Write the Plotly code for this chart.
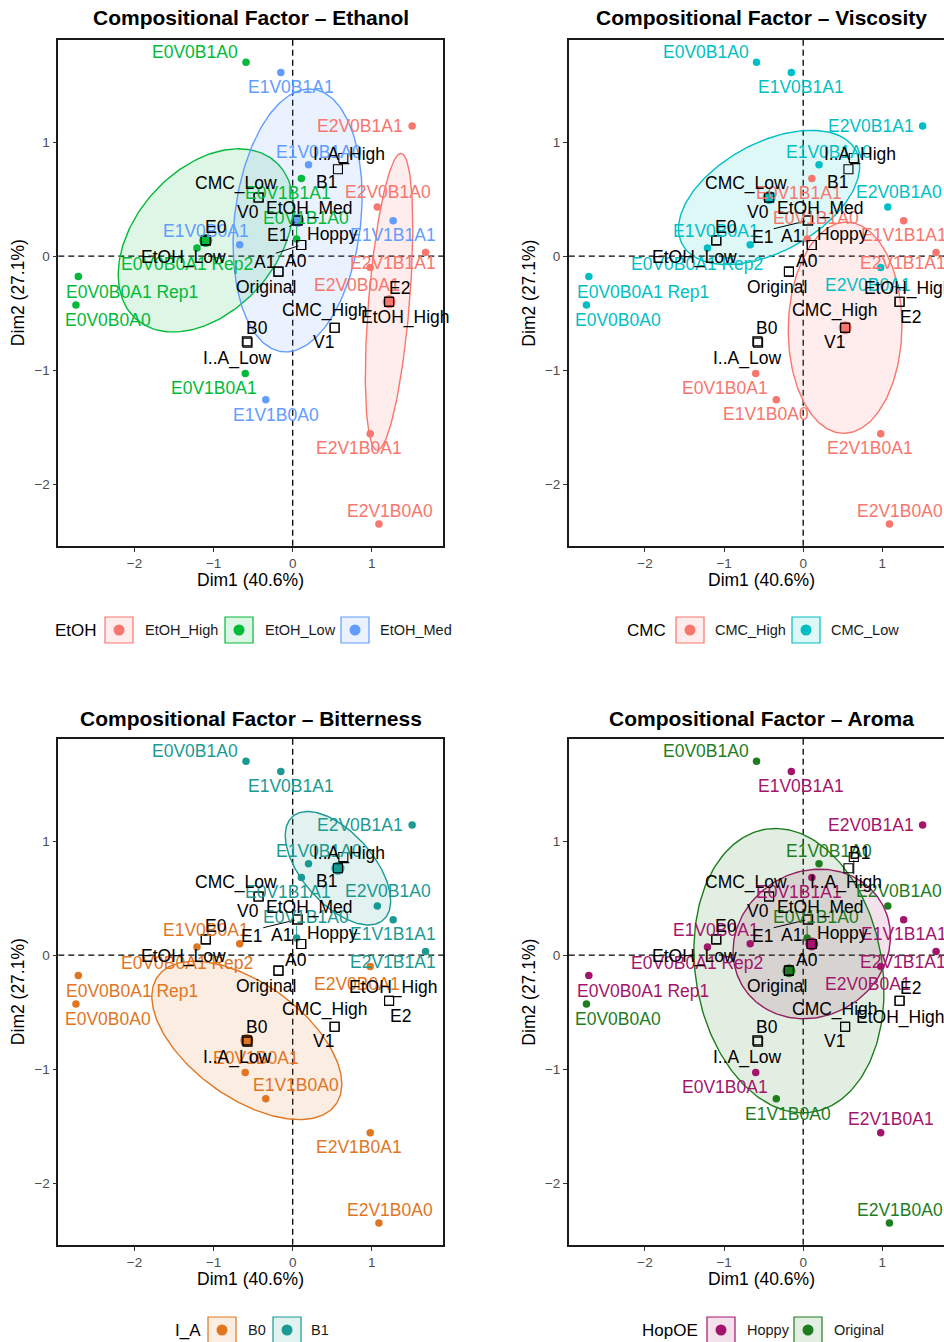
import math
import numpy as np
import plotly.graph_objects as go

W, H = 944, 1342
FONT = "Liberation Sans, Arial, Helvetica, sans-serif"

# ---- individuals: coordinates on Dim1 / Dim2 ----
samples = ["E0V0B1A0", "E1V0B1A1", "E2V0B1A1", "E1V0B1A0", "E0V1B1A1",
           "E2V0B1A0", "E0V1B1A0", "E1V0B0A1", "E1V1B1A1", "E2V1B1A1",
           "E2V0B0A1", "E0V0B0A1 Rep2", "E0V0B0A1 Rep1", "E0V0B0A0",
           "E0V1B0A1", "E1V1B0A0", "E2V1B0A1", "E2V1B0A0"]
dim1 = [-0.59, -0.15, 1.51, 0.20, 0.11, 1.07, 0.05, -0.67, 1.27, 1.68,
        0.98, -1.21, -2.71, -2.74, -0.60, -0.34, 0.98, 1.09]
dim2 = [1.70, 1.61, 1.14, 0.80, 0.68, 0.43, 0.15, 0.10, 0.31, 0.03,
        -0.10, 0.07, -0.18, -0.43, -1.03, -1.26, -1.56, -2.35]

# ---- design factors (code fragment in the sample name -> level) ----
etoh_code = {"E2": "EtOH_High", "E0": "EtOH_Low", "E1": "EtOH_Med"}
cmc_code = {"V1": "CMC_High", "V0": "CMC_Low"}
ia_code = {"B0": "B0", "B1": "B1"}
hop_code = {"A1": "Hoppy", "A0": "Original"}

# supplementary sensory intensity categories
ia_sup_levels = ["I..A_High", "I..A_Low"]
ia_sup_dim1 = [0.64, -0.57]
ia_sup_dim2 = [0.86, -0.76]

dim1_title = "Dim1 (40.6%)"
dim2_title = "Dim2 (27.1%)"
ticks = [-2, -1, 0, 1]

# ---- geometry ----
XR = (-2.963, 1.904)
YR = (-2.541, 1.895)
PW, PH = 385.0, 505.7
SX = PW / (XR[1] - XR[0])
SY = PH / (YR[1] - YR[0])
LS = 17.5  # label font size

CW = {"E": .667, "V": .667, "B": .667, "A": .667, "C": .722, "M": .833, "L": .556,
      "H": .722, "O": .778, "I": .278, "D": .722, "t": .278, "o": .556, "w": .722,
      "e": .556, "d": .556, "i": .222, "g": .556, "h": .556, "p": .556, "y": .5,
      "r": .333, "n": .556, "a": .556, "l": .222, "_": .556, ".": .278, " ": .278,
      "R": .722}


def text_w(s, size):
    return sum(CW.get(c, .556) for c in s) * size


def rgba(hexc, a):
    h = hexc.lstrip("#")
    return "rgba(%d,%d,%d,%.3f)" % (int(h[0:2], 16), int(h[2:4], 16), int(h[4:6], 16), a)


# label offsets in pixels (dx right, dy down) from the marked point
label_offsets = {
    "E0V0B1A0": (-51, -10), "E1V0B1A1": (10, 15), "E2V0B1A1": (-52, 0),
    "E1V0B1A0": (10, -13), "E0V1B1A1": (-13, 14), "E2V0B1A0": (11, -15),
    "E0V1B1A0": (9, -21), "E1V0B0A1": (-34, -14), "E1V1B1A1": (0, 14),
    "E2V1B1A1": (-33, 10), "E2V0B0A1": (-13, 18), "E0V0B0A1 Rep2": (-10, 16),
    "E0V0B0A1 Rep1": (54, 15), "E0V0B0A0": (32, 15), "E0V1B0A1": (-31, 15),
    "E1V1B0A0": (10, 15), "E2V1B0A1": (-11, 14), "E2V1B0A0": (11, -13),
    "I..A_High": (6, -3), "B1": (-11, 13), "CMC_Low": (-23, -14), "V0": (-11, 15),
    "EtOH_Med": (12, -12), "E0": (10, -13), "E1": (-46, 17), "A1": (-20, -9),
    "Hoppy": (31, -11), "EtOH_Low": (-22, 17), "A0": (18, -11), "Original": (-12, 15),
    "E2": (11, 15), "EtOH_High": (9, -13), "CMC_High": (-10, -17), "V1": (-11, 14),
    "B0": (10, -13), "I..A_Low": (-11, 16),
}

panels = [
    dict(title="Compositional Factor – Ethanol", factor="EtOH", pos=0, codes=etoh_code,
         levels=["EtOH_High", "EtOH_Low", "EtOH_Med"],
         colors=["#F8766D", "#00BA38", "#619CFF"],
         left=58.3, top=40.0, title_y=18,
         legend=dict(y=630, title_x=53, keys=[105, 225, 341], texts=[143, 263, 378]),
         overrides={"E1": (-20, 15), "A1": (-37, 17), "E2": (10, -14), "EtOH_High": (16, 16)}),
    dict(title="Compositional Factor – Viscosity", factor="CMC", pos=2, codes=cmc_code,
         levels=["CMC_High", "CMC_Low"], colors=["#F8766D", "#00BFC4"],
         left=568.8, top=40.0, title_y=18,
         legend=dict(y=630, title_x=625, keys=[676, 792], texts=[713, 829]),
         overrides={"E1V1B0A0": (-10, 14)}),
    dict(title="Compositional Factor – Bitterness", factor="I_A", pos=4, codes=ia_code,
         levels=["B0", "B1"], colors=["#E0761F", "#1A9A93"],
         left=58.3, top=739.0, title_y=718,
         legend=dict(y=1330, title_x=173, keys=[208, 273], texts=[246, 309]),
         overrides={"E1V1B0A0": (30, -14), "E0V1B0A1": (11, -14), "EtOH_High": (4, -13)}),
    dict(title="Compositional Factor – Aroma", factor="HopOE", pos=6, codes=hop_code,
         levels=["Hoppy", "Original"], colors=["#A3156B", "#1E7D1E"],
         left=568.8, top=739.0, title_y=718,
         legend=dict(y=1330, title_x=640, keys=[707, 794], texts=[745, 832]),
         overrides={"E1V1B0A0": (12, 15), "E2V1B0A1": (10, -14), "B1": (11, -15),
                    "I..A_High": (-8, 26), "E2": (11, -13), "EtOH_High": (1, 17)}),
]

x = np.array(dim1)
y = np.array(dim2)


def group_mean(pos, code):
    idx = [i for i, s in enumerate(samples) if s[pos:pos + 2] == code]
    return float(x[idx].mean()), float(y[idx].mean())


# supplementary categories: barycentres of the design groups
sup_names, sup_x, sup_y = [], [], []
for pos, codes in [(0, etoh_code), (2, cmc_code), (4, ia_code), (6, hop_code)]:
    for code, name in codes.items():
        mx, my = group_mean(pos, code)
        for nm in dict.fromkeys([code, name]):
            sup_names.append(nm)
            sup_x.append(mx)
            sup_y.append(my)
for nm, a, b in zip(ia_sup_levels, ia_sup_dim1, ia_sup_dim2):
    sup_names.append(nm)
    sup_x.append(a)
    sup_y.append(b)


def conf_ellipse(px, py, level=0.95, npoints=200):
    n = len(px)
    cov = np.cov(np.vstack([px, py])) / n
    t = math.sqrt(-2.0 * math.log(1.0 - level))
    s1, s2 = math.sqrt(cov[0, 0]), math.sqrt(cov[1, 1])
    r = cov[0, 1] / (s1 * s2)
    d = math.acos(max(-1.0, min(1.0, r)))
    a = np.linspace(0, 2 * math.pi, npoints)
    return (t * s1 * np.cos(a + d / 2) + px.mean(),
            t * s2 * np.cos(a - d / 2) + py.mean())


fig = go.Figure()
layout = dict(width=W, height=H, margin=dict(l=0, r=0, t=0, b=0), autosize=False,
              paper_bgcolor="white", plot_bgcolor="white", showlegend=False,
              font=dict(family=FONT, color="#000000"))
annotations, shapes = [], []


def px2paper(xp, yp):
    return xp / W, 1 - yp / H


for k, p in enumerate(panels):
    ax = "" if k == 0 else str(k + 1)
    xa, ya = "x" + ax, "y" + ax
    left, top = p["left"], p["top"]
    right = min(left + PW, W)
    bottom = top + PH
    clipped = left + PW > W
    xrange = [XR[0], XR[0] + (right - left) / SX]
    axis_common = dict(showgrid=False, zeroline=False, showline=True, linecolor="#1a1a1a",
                       linewidth=1.6, ticks="outside", ticklen=4, tickwidth=1,
                       tickcolor="#333333", tickvals=ticks,
                       tickfont=dict(size=13.5, color="#4D4D4D", family=FONT))
    layout["xaxis" + ax] = dict(axis_common, domain=[left / W, right / W], range=xrange,
                                anchor=ya, mirror=True)
    layout["yaxis" + ax] = dict(axis_common, domain=[1 - bottom / H, 1 - top / H],
                                range=list(YR), anchor=xa, mirror=not clipped)

    # reference lines through the origin
    shapes.append(dict(type="line", xref=xa, yref=ya + " domain", x0=0, x1=0, y0=0, y1=1,
                       line=dict(color="black", width=1.3, dash="6px,4px"), layer="below"))
    shapes.append(dict(type="line", xref=xa + " domain", yref=ya, x0=0, x1=1, y0=0, y1=0,
                       line=dict(color="black", width=1.3, dash="6px,4px"), layer="below"))

    codes = p["codes"]
    lev_of = [codes[s[p["pos"]:p["pos"] + 2]] for s in samples]
    col_of = {lv: c for lv, c in zip(p["levels"], p["colors"])}

    # confidence ellipses around group means
    for lv in p["levels"]:
        idx = [i for i, l in enumerate(lev_of) if l == lv]
        ex, ey = conf_ellipse(x[idx], y[idx])
        fig.add_trace(go.Scatter(x=ex, y=ey, mode="lines", xaxis=xa, yaxis=ya,
                                 line=dict(color=col_of[lv], width=1.4),
                                 fill="toself", fillcolor=rgba(col_of[lv], 0.13),
                                 hoverinfo="skip"))
    # individuals
    for lv in p["levels"]:
        idx = [i for i, l in enumerate(lev_of) if l == lv]
        fig.add_trace(go.Scatter(x=x[idx], y=y[idx], mode="markers", xaxis=xa, yaxis=ya,
                                 marker=dict(color=col_of[lv], size=7.5, line=dict(width=0))))
    # group means
    for lv in p["levels"]:
        idx = [i for i, l in enumerate(lev_of) if l == lv]
        fig.add_trace(go.Scatter(x=[x[idx].mean()], y=[y[idx].mean()], mode="markers",
                                 xaxis=xa, yaxis=ya,
                                 marker=dict(color=col_of[lv], size=13, line=dict(width=0))))
    # supplementary categories
    fig.add_trace(go.Scatter(x=sup_x, y=sup_y, mode="markers", xaxis=xa, yaxis=ya,
                             marker=dict(symbol="square-open", color="black", size=9,
                                         line=dict(width=1.1, color="black"))))

    # labels with repel-style segments
    offs = dict(label_offsets)
    offs.update(p["overrides"])
    items = [(s, x[i], y[i], col_of[lev_of[i]]) for i, s in enumerate(samples)]
    items += [(s, sup_x[j], sup_y[j], "#000000") for j, s in enumerate(sup_names)]
    seg = {}
    for name, vx, vy, col in items:
        dx, dy = offs[name]
        annotations.append(dict(x=vx, y=vy, xref=xa, yref=ya, text=name, showarrow=False,
                                xshift=dx, yshift=-dy, xanchor="center", yanchor="middle",
                                font=dict(size=LS, color=col, family=FONT)))
        hw = text_w(name, LS) / 2 + 1
        hh = LS * 0.5
        ox = max(abs(dx) - hw, 0)
        oy = max(abs(dy) - hh, 0)
        if math.hypot(ox, oy) > 10:
            ex_ = min(max(0.0, dx - hw), dx + hw)
            ey_ = min(max(0.0, dy - hh), dy + hh)
            L = math.hypot(ex_, ey_)
            sx0, sy0 = ex_ / L * 3, ey_ / L * 3
            seg.setdefault(col, ([], []))
            seg[col][0].extend([vx + sx0 / SX, vx + ex_ / SX, None])
            seg[col][1].extend([vy - sy0 / SY, vy - ey_ / SY, None])
    for col, (sxs, sys_) in seg.items():
        fig.add_trace(go.Scatter(x=sxs, y=sys_, mode="lines", xaxis=xa, yaxis=ya,
                                 line=dict(color=col, width=1.0), hoverinfo="skip"))

    # panel title and axis titles
    cx = (left + left + PW) / 2
    annotations.append(dict(x=cx / W, y=1 - p["title_y"] / H, xref="paper", yref="paper",
                            text="<b>%s</b>" % p["title"], showarrow=False,
                            xanchor="center", yanchor="middle",
                            font=dict(size=21, color="black", family=FONT)))
    annotations.append(dict(x=cx / W, y=1 - (bottom + 34) / H, xref="paper", yref="paper",
                            text=dim1_title, showarrow=False, xanchor="center",
                            yanchor="middle", font=dict(size=17.5, color="black")))
    annotations.append(dict(x=(left - 40) / W, y=1 - (top + PH / 2) / H, xref="paper",
                            yref="paper", text=dim2_title, showarrow=False, textangle=-90,
                            xanchor="center", yanchor="middle",
                            font=dict(size=17.5, color="black")))

    # legend
    lg = p["legend"]
    ly = lg["y"]
    annotations.append(dict(x=lg["title_x"] / W, y=1 - ly / H, xref="paper", yref="paper",
                            text=p["factor"], showarrow=False, xanchor="left",
                            yanchor="middle", font=dict(size=17, color="black")))
    for lv, c, kx, tx in zip(p["levels"], p["colors"], lg["keys"], lg["texts"]):
        x0p, y0p = px2paper(kx, ly - 13)
        x1p, y1p = px2paper(kx + 28, ly + 13)
        shapes.append(dict(type="rect", xref="paper", yref="paper", x0=x0p, x1=x1p,
                           y0=y1p, y1=y0p, line=dict(color=c, width=1.2),
                           fillcolor=rgba(c, 0.13)))
        d0x, d0y = px2paper(kx + 14 - 5.5, ly - 5.5)
        d1x, d1y = px2paper(kx + 14 + 5.5, ly + 5.5)
        shapes.append(dict(type="circle", xref="paper", yref="paper", x0=d0x, x1=d1x,
                           y0=d1y, y1=d0y, line=dict(color=c, width=0), fillcolor=c))
        annotations.append(dict(x=tx / W, y=1 - ly / H, xref="paper", yref="paper",
                                text=lv, showarrow=False, xanchor="left", yanchor="middle",
                                font=dict(size=14.5, color="#1a1a1a")))

layout["annotations"] = annotations
layout["shapes"] = shapes
fig.update_layout(**layout)
fig.write_html("out.html")
